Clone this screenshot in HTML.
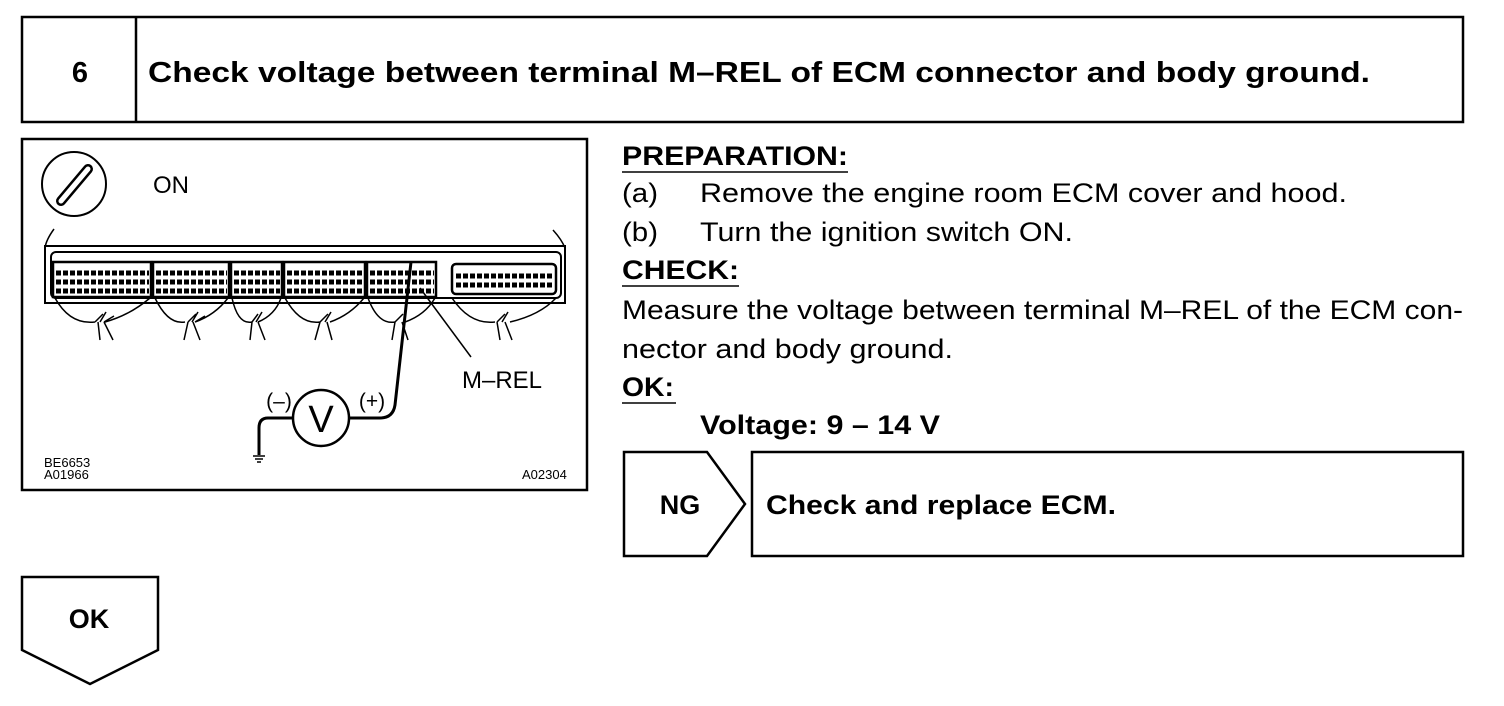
<!DOCTYPE html>
<html><head><meta charset="utf-8"><style>html,body{margin:0;padding:0;background:#fff}svg{display:block}</style></head>
<body>
<svg width="1504" height="706" viewBox="0 0 1504 706" xmlns="http://www.w3.org/2000/svg" font-family="Liberation Sans, Arial, sans-serif">
<rect x="0" y="0" width="1504" height="706" fill="#fff"/>
<rect x="22" y="17" width="1441" height="105" fill="none" stroke="#000" stroke-width="2.5"/>
<line x1="136" y1="17" x2="136" y2="122" stroke="#000" stroke-width="2.5"/>
<text x="80" y="82" font-size="29" font-weight="bold" text-anchor="middle">6</text>
<text x="148" y="82" font-size="29" font-weight="bold" textLength="1222" lengthAdjust="spacingAndGlyphs">Check voltage between terminal M–REL of ECM connector and body ground.</text>
<rect x="22" y="139" width="565" height="351" fill="none" stroke="#000" stroke-width="2.5"/>
<circle cx="74" cy="184" r="32" fill="none" stroke="#000" stroke-width="2"/>
<line x1="61" y1="201" x2="88" y2="169" stroke="#000" stroke-width="10" stroke-linecap="round"/>
<line x1="61" y1="201" x2="88" y2="169" stroke="#fff" stroke-width="5" stroke-linecap="round"/>
<text x="153" y="193" font-size="24">ON</text>
<path d="M54 229 Q46 240 45 248 M553 230 Q562 240 565 248" fill="none" stroke="#000" stroke-width="1.5"/>
<rect x="45" y="246" width="520" height="57" fill="none" stroke="#000" stroke-width="2"/>
<rect x="51" y="252" width="510" height="46" rx="5" fill="none" stroke="#000" stroke-width="2"/>
<g fill="none" stroke="#000" stroke-width="2.5">
<rect x="53" y="262" width="98" height="35"/><rect x="153" y="262" width="76" height="35"/><rect x="231" y="262" width="51" height="35"/><rect x="284" y="262" width="81" height="35"/><rect x="367" y="262" width="69" height="35"/><rect x="452" y="264" width="104" height="30" rx="4"/>
</g>
<g stroke="#000" stroke-width="5" stroke-dasharray="5,2">
<line x1="56" y1="273" x2="149" y2="273"/><line x1="56" y1="282" x2="149" y2="282"/><line x1="56" y1="291" x2="149" y2="291"/>
<line x1="156" y1="273" x2="227" y2="273"/><line x1="156" y1="282" x2="227" y2="282"/><line x1="156" y1="291" x2="227" y2="291"/>
<line x1="234" y1="273" x2="280" y2="273"/><line x1="234" y1="282" x2="280" y2="282"/><line x1="234" y1="291" x2="280" y2="291"/>
<line x1="287" y1="273" x2="363" y2="273"/><line x1="287" y1="282" x2="363" y2="282"/><line x1="287" y1="291" x2="363" y2="291"/>
<line x1="370" y1="273" x2="434" y2="273"/><line x1="370" y1="282" x2="434" y2="282"/><line x1="370" y1="291" x2="434" y2="291"/>
<line x1="456" y1="276" x2="553" y2="276"/><line x1="456" y1="285" x2="553" y2="285"/>
</g>
<g fill="none" stroke="#000" stroke-width="1.5">
<path d="M55 298 Q70 325 95 322 M150 298 Q130 315 105 322 M98 322 L100 340 M104 322 L113 340 M95 322 l8 -8 M100 322 l6 -10 M104 322 l10 -6"/>
<path d="M155 298 Q168 325 185 322 M228 298 Q215 315 195 322 M188 322 L184 340 M193 322 L200 340 M188 322 l8 -8 M192 322 l6 -10 M195 322 l10 -6"/>
<path d="M232 298 Q238 325 252 322 M281 298 Q275 315 258 322 M252 322 L250 340 M258 322 L265 340 M252 322 l6 -8 M256 322 l6 -10"/>
<path d="M285 298 Q300 325 320 322 M364 298 Q350 315 330 322 M320 322 L315 340 M327 322 L332 340 M320 322 l8 -8 M325 322 l6 -10"/>
<path d="M368 298 Q378 325 395 322 M435 298 Q425 315 405 322 M395 322 L392 340 M402 322 L408 340 M395 322 l8 -8"/>
<path d="M452 298 Q470 325 495 322 M556 298 Q540 315 510 322 M497 322 L500 340 M505 322 L512 340 M497 322 l8 -8 M502 322 l6 -10"/>
</g>
<path d="M411 262 L395 405 Q393 418 380 418 L348 418" fill="none" stroke="#000" stroke-width="3"/>
<line x1="420" y1="288" x2="471" y2="357" stroke="#000" stroke-width="1.5"/>
<text x="462" y="388" font-size="24">M–REL</text>
<circle cx="321" cy="418" r="28" fill="none" stroke="#000" stroke-width="2.5"/>
<text x="321" y="432" font-size="38" text-anchor="middle">V</text>
<text x="372" y="408" font-size="21" text-anchor="middle">(+)</text>
<text x="279" y="408" font-size="21" text-anchor="middle">(–)</text>
<path d="M293 418 L268 418 Q259 418 259 428 L259 455" fill="none" stroke="#000" stroke-width="3"/>
<path d="M253 456 H265 M255 459 H263 M257 462 H261" stroke="#000" stroke-width="1.5"/>
<text x="44" y="467" font-size="13">BE6653</text>
<text x="44" y="479" font-size="13">A01966</text>
<text x="522" y="479" font-size="13">A02304</text>
<text x="622" y="165" font-size="27" font-weight="bold" textLength="226" lengthAdjust="spacingAndGlyphs">PREPARATION:</text>
<line x1="622" y1="172" x2="848" y2="172" stroke="#000" stroke-width="1.5"/>
<text x="622" y="202" font-size="27" textLength="36" lengthAdjust="spacingAndGlyphs">(a)</text>
<text x="700" y="202" font-size="27" textLength="647" lengthAdjust="spacingAndGlyphs">Remove the engine room ECM cover and hood.</text>
<text x="622" y="241" font-size="27" textLength="36" lengthAdjust="spacingAndGlyphs">(b)</text>
<text x="700" y="241" font-size="27" textLength="373" lengthAdjust="spacingAndGlyphs">Turn the ignition switch ON.</text>
<text x="622" y="279" font-size="27" font-weight="bold" textLength="117" lengthAdjust="spacingAndGlyphs">CHECK:</text>
<line x1="622" y1="286" x2="739" y2="286" stroke="#000" stroke-width="1.5"/>
<text x="622" y="319" font-size="27" textLength="841" lengthAdjust="spacingAndGlyphs">Measure the voltage between terminal M–REL of the ECM con-</text>
<text x="622" y="358" font-size="27" textLength="331" lengthAdjust="spacingAndGlyphs">nector and body ground.</text>
<text x="622" y="396" font-size="27" font-weight="bold" textLength="52" lengthAdjust="spacingAndGlyphs">OK:</text>
<line x1="622" y1="403" x2="676" y2="403" stroke="#000" stroke-width="1.5"/>
<text x="700" y="434" font-size="27" font-weight="bold" textLength="240" lengthAdjust="spacingAndGlyphs">Voltage: 9 – 14 V</text>
<path d="M624 452 L707 452 L745 504 L707 556 L624 556 Z" fill="none" stroke="#000" stroke-width="2.5"/>
<text x="680" y="514" font-size="27" font-weight="bold" text-anchor="middle">NG</text>
<rect x="752" y="452" width="711" height="104" fill="none" stroke="#000" stroke-width="2.5"/>
<text x="766" y="514" font-size="27" font-weight="bold" textLength="350" lengthAdjust="spacingAndGlyphs">Check and replace ECM.</text>
<path d="M22 577 L158 577 L158 650 L90 684 L22 650 Z" fill="none" stroke="#000" stroke-width="2.5"/>
<text x="89" y="628" font-size="27" font-weight="bold" text-anchor="middle">OK</text>
</svg>
</body></html>
